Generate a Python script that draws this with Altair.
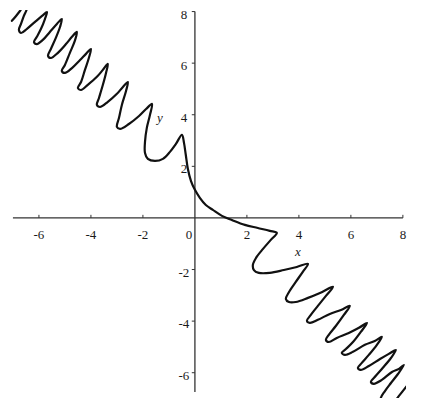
import altair as alt
import pandas as pd

# ---- data (data units) ----
curve_x = [
    -7.04, -6.88, -6.73, -6.54, -6.46, -6.58, -6.69, -6.77, -6.69, -6.46, -6.15, -5.88, -5.69,
    -5.77, -5.92, -6.08, -6.19, -6.08, -5.85, -5.58, -5.31, -5.12,
    -5.19, -5.35, -5.54, -5.65, -5.54, -5.27, -4.96, -4.73, -4.54,
    -4.62, -4.81, -5.00, -5.12, -5.00, -4.73, -4.42, -4.19, -4.00,
    -4.08, -4.23, -4.38, -4.50, -4.38, -4.12, -3.77, -3.54, -3.35,
    -3.42, -3.54, -3.69, -3.77, -3.65, -3.35, -3.00, -2.77, -2.58,
    -2.65, -2.81, -2.92, -3.00, -2.88, -2.54, -2.15, -1.88, -1.65,
    -1.73, -1.85, -1.92, -1.92, -1.81, -1.54, -1.23, -0.96, -0.73, -0.50,
    -0.42, -0.35, -0.27, -0.15, 0.00, 0.19, 0.42, 0.69, 1.04, 1.42, 1.92, 2.42, 2.88, 3.15,
    2.92, 2.62, 2.35, 2.23, 2.27, 2.46, 2.88, 3.42, 3.92, 4.35,
    4.15, 3.88, 3.62, 3.50, 3.62, 3.88, 4.35, 4.81, 5.31,
    5.04, 4.73, 4.46, 4.31, 4.42, 4.73, 5.19, 5.62, 5.96,
    5.73, 5.42, 5.15, 5.04, 5.15, 5.46, 5.92, 6.31, 6.62,
    6.38, 6.08, 5.81, 5.65, 5.77, 6.08, 6.54, 6.92, 7.19,
    7.00, 6.69, 6.42, 6.27, 6.38, 6.69, 7.12, 7.46, 7.73,
    7.54, 7.23, 6.96, 6.77, 6.88, 7.19, 7.58, 7.85, 8.04,
    7.81, 7.54, 7.31, 7.15, 7.15, 7.31, 7.58, 7.88, 8.27,
]
curve_y = [
    7.64, 7.83, 8.02, 8.29, 8.14, 7.83, 7.52, 7.29, 7.17, 7.33, 7.60, 7.83, 7.98,
    7.71, 7.33, 7.02, 6.82, 6.74, 6.90, 7.21, 7.52, 7.71,
    7.40, 6.98, 6.55, 6.28, 6.20, 6.40, 6.74, 7.02, 7.21,
    6.86, 6.40, 5.93, 5.70, 5.62, 5.81, 6.12, 6.36, 6.55,
    6.20, 5.74, 5.27, 5.04, 4.96, 5.16, 5.47, 5.74, 5.97,
    5.62, 5.16, 4.65, 4.38, 4.30, 4.50, 4.81, 5.08, 5.27,
    4.92, 4.38, 3.88, 3.53, 3.45, 3.64, 3.95, 4.22, 4.42,
    3.99, 3.49, 2.95, 2.52, 2.29, 2.21, 2.29, 2.56, 2.87, 3.22,
    2.91, 2.44, 1.90, 1.43, 1.09, 0.78, 0.50, 0.31, 0.08, -0.08, -0.27, -0.39, -0.50, -0.58,
    -0.85, -1.20, -1.55, -1.82, -2.02, -2.13, -2.13, -2.02, -1.90, -1.78,
    -2.09, -2.48, -2.87, -3.14, -3.26, -3.26, -3.10, -2.91, -2.67,
    -3.02, -3.41, -3.76, -3.99, -4.07, -3.95, -3.72, -3.57, -3.41,
    -3.76, -4.19, -4.53, -4.73, -4.81, -4.65, -4.46, -4.26, -4.07,
    -4.42, -4.81, -5.08, -5.23, -5.31, -5.19, -4.92, -4.77, -4.61,
    -4.92, -5.31, -5.62, -5.81, -5.89, -5.74, -5.47, -5.27, -5.12,
    -5.43, -5.81, -6.12, -6.36, -6.43, -6.28, -5.97, -5.85, -5.70,
    -6.05, -6.40, -6.71, -6.98, -7.21, -7.33, -7.21, -6.86, -6.36,
]

x_tick_values = [-6, -4, -2, 2, 4, 6, 8]
y_tick_values = [-6, -4, -2, 2, 4, 6, 8]
x_tick_labels = ["-6", "-4", "-2", "2", "4", "6", "8"]
y_tick_labels = ["-6", "-4", "-2", "2", "4", "6", "8"]
x_axis_span = [-7.0, 8.0]
y_axis_span = [-6.75, 8.0]
x_domain = [-7.19, 8.12]
y_domain = [-6.98, 8.06]
axis_names = ["x", "y"]
axis_name_x = [3.96, -1.35]
axis_name_y = [-1.32, 3.88]

# ---- tables ----
curve_df = pd.DataFrame({"x": curve_x, "y": curve_y, "i": list(range(len(curve_x)))})
xs = alt.Scale(domain=x_domain, nice=False, zero=False)
ys = alt.Scale(domain=y_domain, nice=False, zero=False)
FONT = "Liberation Serif"
INK = "#1a1a1a"

curve = alt.Chart(curve_df).mark_line(
    clip=True, color="#111111", strokeWidth=2.2, interpolate="catmull-rom",
    strokeJoin="round", strokeCap="round"
).encode(
    x=alt.X("x:Q", scale=xs, axis=None),
    y=alt.Y("y:Q", scale=ys, axis=None),
    order=alt.Order("i:Q"),
)

xaxis = alt.Chart(pd.DataFrame({"x": [x_axis_span[0]], "x2": [x_axis_span[1]], "y": [0.0]})).mark_rule(
    color="#333333", strokeWidth=1.3
).encode(x=alt.X("x:Q", scale=xs, axis=None), x2="x2:Q", y=alt.Y("y:Q", scale=ys, axis=None))

yaxis = alt.Chart(pd.DataFrame({"y": [y_axis_span[0]], "y2": [y_axis_span[1]], "x": [0.0]})).mark_rule(
    color="#333333", strokeWidth=1.3
).encode(y=alt.Y("y:Q", scale=ys, axis=None), y2="y2:Q", x=alt.X("x:Q", scale=xs, axis=None))

xt_df = pd.DataFrame({"x": x_tick_values, "y": [0.0] * len(x_tick_values),
                      "y2": [0.12] * len(x_tick_values), "lab": x_tick_labels})
yt_df = pd.DataFrame({"y": y_tick_values, "x": [0.0] * len(y_tick_values),
                      "x2": [-0.12] * len(y_tick_values), "lab": y_tick_labels})

xticks = alt.Chart(xt_df).mark_rule(color="#333333", strokeWidth=1).encode(
    x=alt.X("x:Q", scale=xs, axis=None), y=alt.Y("y:Q", scale=ys, axis=None), y2="y2:Q")
yticks = alt.Chart(yt_df).mark_rule(color="#333333", strokeWidth=1).encode(
    y=alt.Y("y:Q", scale=ys, axis=None), x=alt.X("x:Q", scale=xs, axis=None), x2="x2:Q")

xlabels = alt.Chart(xt_df).mark_text(
    font=FONT, fontSize=13, color=INK, align="center", baseline="middle", dy=17
).encode(x=alt.X("x:Q", scale=xs, axis=None), y=alt.Y("y:Q", scale=ys, axis=None), text="lab:N")

zero_label = alt.Chart(pd.DataFrame({"x": [0.0], "y": [0.0], "lab": ["0"]})).mark_text(
    font=FONT, fontSize=13, color=INK, align="center", baseline="middle", dx=-6, dy=17
).encode(x=alt.X("x:Q", scale=xs, axis=None), y=alt.Y("y:Q", scale=ys, axis=None), text="lab:N")

ylabels = alt.Chart(yt_df).mark_text(
    font=FONT, fontSize=13, color=INK, align="center", baseline="middle", dx=-11, dy=3
).encode(x=alt.X("x:Q", scale=xs, axis=None), y=alt.Y("y:Q", scale=ys, axis=None), text="lab:N")

names = alt.Chart(pd.DataFrame({"x": axis_name_x, "y": axis_name_y, "lab": axis_names})).mark_text(
    font=FONT, fontSize=13, fontStyle="italic", color=INK, align="center", baseline="middle"
).encode(x=alt.X("x:Q", scale=xs, axis=None), y=alt.Y("y:Q", scale=ys, axis=None), text="lab:N")

chart = alt.layer(
    xaxis, yaxis, xticks, yticks, xlabels, zero_label, ylabels, names, curve
).properties(
    width=398, height=388, padding=0, background="white"
).configure_view(stroke=None)

chart.save("out.html", embed_options={"renderer": "svg", "actions": False})
